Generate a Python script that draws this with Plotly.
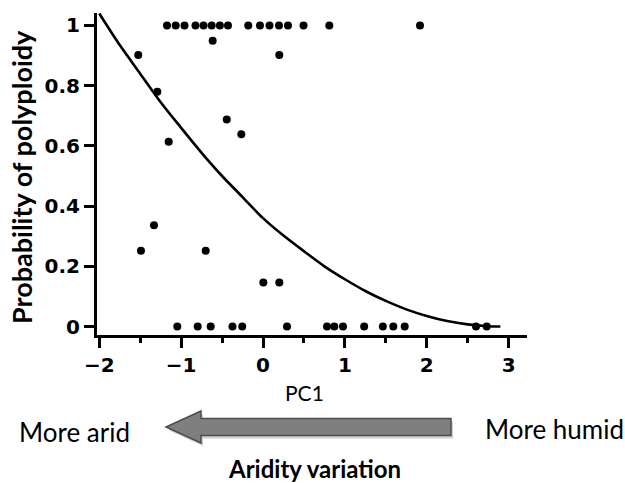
import plotly.graph_objects as go

# ---------------- data ----------------
top_x = [-1.173, -1.067, -0.959, -0.825, -0.726, -0.627, -0.527, -0.428,
         -0.180, -0.037, 0.079, 0.195, 0.305, 0.495, 0.81, 1.918]
top_y = [1.0] * len(top_x)

mid_x = [-1.524, -0.615, 0.199, -1.291, -0.443, -0.265, -1.152,
         -1.332, -1.491, -0.700, 0.004, 0.199]
mid_y = [0.902, 0.949, 0.902, 0.780, 0.688, 0.639, 0.614,
         0.336, 0.252, 0.252, 0.146, 0.146]

bot_x = [-1.047, -0.798, -0.639, -0.373, -0.254, 0.293, 0.782, 0.871,
         0.977, 1.236, 1.464, 1.592, 1.731, 2.602, 2.733]
bot_y = [0.0] * len(bot_x)

curve_x = [-2.0, -1.75, -1.5, -1.25, -1.0, -0.75, -0.5, -0.25, 0.0, 0.25, 0.5,
           0.75, 1.0, 1.25, 1.5, 1.75, 2.0, 2.25, 2.5, 2.75, 2.9]
curve_y = [1.04, 0.935, 0.84, 0.745, 0.66, 0.577, 0.50, 0.43, 0.36, 0.302, 0.25,
           0.20, 0.157, 0.118, 0.085, 0.057, 0.035, 0.018, 0.007, 0.001, 0.0]

x_ticks = [-2, -1, 0, 1, 2, 3]
y_ticks = [0, 0.2, 0.4, 0.6, 0.8, 1]
y_ticktext = ["0", "0.2", "0.4", "0.6", "0.8", "1"]

# ---------------- layout geometry (pixels) ----------------
W, H = 625, 483
L, R, T, B = 97, 527, 13, 335


def px(xp):
    return (xp - L) / (R - L)


def py(yp):
    return (B - yp) / (B - T)


pts_x = top_x + mid_x + bot_x
pts_y = top_y + mid_y + bot_y

fig = go.Figure()
fig.add_trace(go.Scatter(x=curve_x, y=curve_y, mode="lines",
                         line=dict(color="black", width=2.6, shape="spline", smoothing=0.8),
                         hoverinfo="skip", showlegend=False))
fig.add_trace(go.Scatter(x=pts_x, y=pts_y, mode="markers",
                         marker=dict(color="black", size=8, line=dict(width=0)),
                         showlegend=False))

tickfont = dict(family="DejaVu Sans", size=20, color="black", weight="bold")

fig.update_layout(
    width=W, height=H,
    margin=dict(l=L, r=W - R, t=T, b=H - B, pad=0),
    paper_bgcolor="white", plot_bgcolor="white",
    xaxis=dict(range=[-2.028, 3.225], tickvals=x_ticks,
               ticktext=[str(v).replace("-", "\u2212") for v in x_ticks],
               showline=True, linecolor="black", linewidth=3, zeroline=False, showgrid=False,
               ticks="outside", ticklen=10, tickwidth=3, tickcolor="black", tickfont=tickfont,
               minor=dict(ticks="outside", ticklen=5, tickwidth=3, tickcolor="black",
                          tick0=-2, dtick=0.5, showgrid=False)),
    yaxis=dict(range=[-0.0282, 1.0415], tickvals=y_ticks, ticktext=y_ticktext,
               showline=True, linecolor="black", linewidth=3, zeroline=False, showgrid=False,
               ticks="outside", ticklen=10, tickwidth=2.5, tickcolor="black", tickfont=tickfont),
)

# arrow (decoration) with shadow
tipx, basex, endx, cy = 166, 201, 451, 427
hh, sh = 16, 8.5


def arrow_path(dx, dy):
    p = [(tipx, cy), (basex, cy - hh), (basex, cy - sh), (endx, cy - sh),
         (endx, cy + sh), (basex, cy + sh), (basex, cy + hh)]
    return "M " + " L ".join(f"{px(a + dx):.5f},{py(b + dy):.5f}" for a, b in p) + " Z"


fig.add_shape(type="path", xref="paper", yref="paper", path=arrow_path(2, 3),
              fillcolor="rgba(0,0,0,0.18)", line=dict(width=0), layer="below")
fig.add_shape(type="path", xref="paper", yref="paper", path=arrow_path(0, 0),
              fillcolor="#7f7f7f", line=dict(color="#4d4d4d", width=1.5))

txt = dict(family="Lato", color="black")
fig.add_annotation(x=px(21.5), y=py(177.5), xref="paper", yref="paper",
                   text="Probability of polyploidy", textangle=-90, showarrow=False,
                   font=dict(size=27, weight="bold", **txt), xanchor="center", yanchor="middle")
fig.add_annotation(x=px(304), y=py(392), xref="paper", yref="paper", text="PC1",
                   showarrow=False, font=dict(size=21, **txt), xanchor="center", yanchor="middle")
fig.add_annotation(x=px(74), y=py(432), xref="paper", yref="paper", text="More arid",
                   showarrow=False, font=dict(size=26, **txt), xanchor="center", yanchor="middle")
fig.add_annotation(x=px(554), y=py(429), xref="paper", yref="paper", text="More humid",
                   showarrow=False, font=dict(size=26, **txt), xanchor="center", yanchor="middle")
fig.add_annotation(x=px(314), y=py(468), xref="paper", yref="paper", text="Aridity variation",
                   showarrow=False, font=dict(size=24, weight="bold", **txt), xanchor="center", yanchor="middle")

fig.write_html("out.html", config={"displayModeBar": False},
               post_script="document.body.style.margin='0';document.body.style.overflow='hidden';")
